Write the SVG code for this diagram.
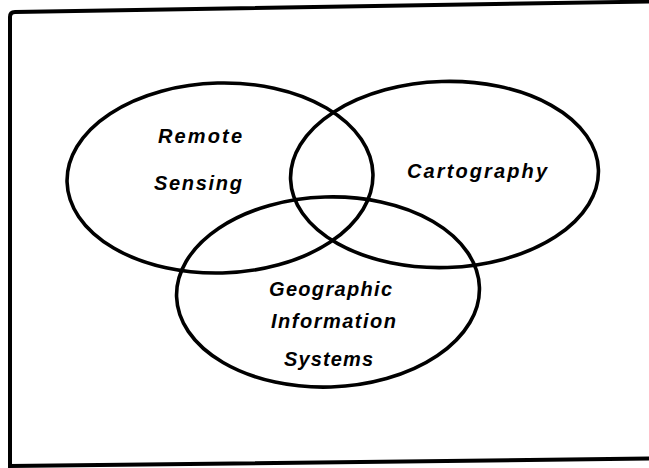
<svg xmlns="http://www.w3.org/2000/svg" width="649" height="468" viewBox="0 0 649 468">
<style>
.ring{fill:none;stroke:#000;stroke-width:3.6}
.lbl{font-family:"Liberation Sans",Arial,sans-serif;font-weight:bold;font-style:italic;font-size:20px;fill:#000;text-anchor:middle}
</style>
<rect width="649" height="468" fill="#fff"/>
<g id="frame">
<path d="M 652 1.5 L 15 12 Q 10 12 10 17 L 10 466 L 652 458.5" fill="none" stroke="#000" stroke-width="4"/>
</g>
<g id="remote-sensing">
<ellipse class="ring" cx="220" cy="178" rx="153" ry="95" transform="rotate(-1.5 220 178)"/>
<text class="lbl" x="200" y="143" textLength="84" lengthAdjust="spacing">Remote</text>
<text class="lbl" x="198" y="190" textLength="88" lengthAdjust="spacing">Sensing</text>
</g>
<g id="cartography">
<ellipse class="ring" cx="444.5" cy="174.5" rx="154" ry="93" transform="rotate(-1.8 444.5 174.5)"/>
<text class="lbl" x="477" y="177.5" textLength="140" lengthAdjust="spacing">Cartography</text>
</g>
<g id="gis">
<ellipse class="ring" cx="328" cy="292" rx="151.5" ry="95" transform="rotate(-1.8 328 292)"/>
<text class="lbl" x="330.5" y="296" textLength="123" lengthAdjust="spacing">Geographic</text>
<text class="lbl" x="333.5" y="328" textLength="125" lengthAdjust="spacing">Information</text>
<text class="lbl" x="328.5" y="366" textLength="89" lengthAdjust="spacing">Systems</text>
</g>
<g id="connectors"></g>
</svg>
